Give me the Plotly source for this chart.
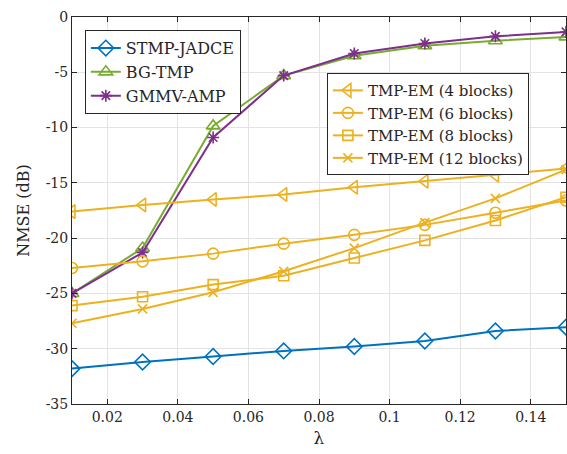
import plotly.graph_objects as go

lam = [0.01, 0.03, 0.05, 0.07, 0.09, 0.11, 0.13, 0.15]
stmp = [-31.8, -31.2, -30.7, -30.2, -29.8, -29.3, -28.4, -28.05]
bgtmp = [-25.0, -20.9, -9.85, -5.3, -3.5, -2.6, -2.15, -1.8]
gmmv = [-25.0, -21.3, -10.9, -5.3, -3.3, -2.4, -1.75, -1.35]
em4 = [-17.6, -17.0, -16.5, -16.05, -15.4, -14.85, -14.3, -13.7]
em6 = [-22.7, -22.1, -21.4, -20.5, -19.7, -18.8, -17.7, -16.6]
em8 = [-26.1, -25.3, -24.2, -23.4, -21.8, -20.2, -18.4, -16.3]
em12 = [-27.7, -26.4, -24.9, -23.0, -20.9, -18.6, -16.4, -13.8]

xticks = [0.02, 0.04, 0.06, 0.08, 0.1, 0.12, 0.14]
xticktext = ["0.02", "0.04", "0.06", "0.08", "0.1", "0.12", "0.14"]
yticks = [-35, -30, -25, -20, -15, -10, -5, 0]
yticktext = ["-35", "-30", "-25", "-20", "-15", "-10", "-5", "0"]

BLUE = "#0072BD"
GREEN = "#77AC30"
PURPLE = "#7E2F8E"
YELLOW = "#EDB120"
FONT = "DejaVu Serif, Liberation Serif, serif"

fig = go.Figure()

def add(y, name, color, symbol, size, legend):
    fig.add_trace(go.Scatter(
        x=lam, y=y, name=name, mode="lines+markers",
        line=dict(color=color, width=2),
        marker=dict(symbol=symbol, size=size, color=color,
                    line=dict(color=color, width=1.6)),
        legend=legend,
    ))

add(stmp, "STMP-JADCE", BLUE, "diamond-open", 12, "legend")
add(bgtmp, "BG-TMP", GREEN, "triangle-up-open", 12, "legend")
add(gmmv, "GMMV-AMP", PURPLE, "asterisk-open", 10, "legend")
add(em4, "TMP-EM (4 blocks)", YELLOW, "triangle-left-open", 12, "legend2")
add(em6, "TMP-EM (6 blocks)", YELLOW, "circle-open", 11, "legend2")
add(em8, "TMP-EM (8 blocks)", YELLOW, "square-open", 10, "legend2")
add(em12, "TMP-EM (12 blocks)", YELLOW, "x-thin-open", 9, "legend2")

axis_common = dict(
    showline=True, linecolor="#262626", linewidth=1,
    mirror="allticks", ticks="inside", ticklen=5, tickcolor="#262626",
    showgrid=True, gridcolor="#e3e3e3", gridwidth=1,
    zeroline=False,
    tickfont=dict(family=FONT, size=14, color="#262626"),
)

fig.update_xaxes(range=[0.01, 0.15], tickvals=xticks, ticktext=xticktext,
                 title=dict(text="λ", font=dict(family=FONT, size=17, color="#262626"), standoff=8),
                 **axis_common)
fig.update_yaxes(range=[-35, 0], tickvals=yticks, ticktext=yticktext,
                 title=dict(text="NMSE (dB)", font=dict(family=FONT, size=16, color="#262626"), standoff=12),
                 **axis_common)

legend_common = dict(
    bgcolor="white", bordercolor="#262626", borderwidth=1,
    xanchor="left", yanchor="top", tracegroupgap=0, itemsizing="trace",
)

fig.update_layout(
    width=567, height=454,
    margin=dict(l=72, r=1, t=17, b=50),
    paper_bgcolor="white", plot_bgcolor="white",
    font=dict(family=FONT, color="#262626"),
    legend=dict(x=0.026, y=0.966, font=dict(family=FONT, size=16, color="#262626"), **legend_common),
    legend2=dict(x=0.516, y=0.855, font=dict(family=FONT, size=15, color="#262626"), **legend_common),
)

fig.write_html("out.html")
